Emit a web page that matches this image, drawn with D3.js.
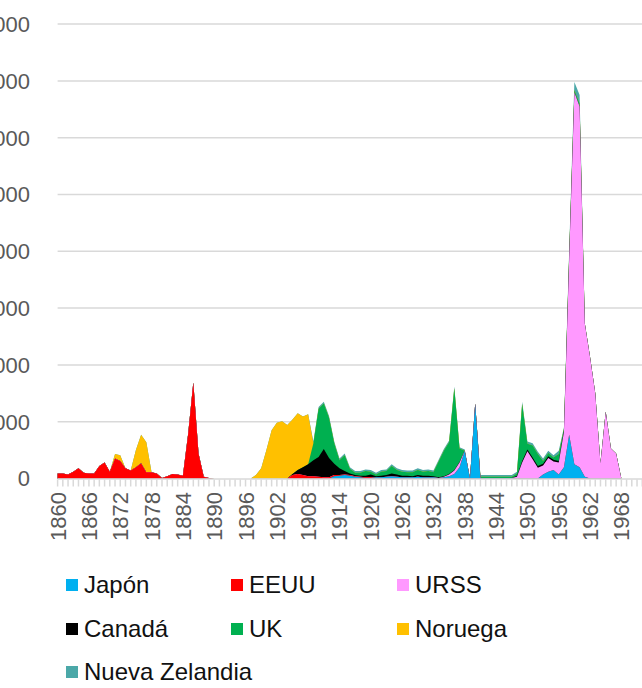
<!DOCTYPE html>
<html>
<head>
<meta charset="utf-8">
<script src="https://cdn.jsdelivr.net/npm/d3@7"></script>
<style>
  html, body { margin: 0; padding: 0; background: #ffffff; }
  svg { display: block; }
  text { font-family: "Liberation Sans", Arial, Helvetica, sans-serif; }
</style>
</head>
<body>
<div id="chart"></div>
<script>
// ---- Data (one value per year, 1860 ... 1975) ----
const years = d3.range(1860, 1976);

const japon = [
  0,0,0,0,0,0,0,0,0,0,
  0,0,0,0,0,0,0,0,0,0,
  0,0,0,0,0,0,0,0,0,0,
  0,0,0,0,0,0,0,0,0,0,
  0,0,0,0,0,0,0,0,0,0,
  0,0,0,80,100,120,100,60,40,20,
  20,40,40,60,80,60,40,40,40,60,
  40,40,40,20,40,80,160,400,980,0,
  2640,20,20,20,20,20,20,20,0,0,
  0,0,0,140,240,300,140,400,1540,500,
  400,60,0,0,0,0,0,0,0,0,
  0,0,0,0,0,0
];
const eeuu = [
  180,180,140,240,360,200,180,180,440,560,
  240,700,620,360,280,400,540,220,220,180,
  20,80,160,140,100,1560,3380,880,60,20,
  0,0,0,0,0,0,0,0,0,0,
  0,0,0,0,0,120,160,120,80,80,
  60,40,40,40,20,20,20,20,20,20,
  20,0,0,0,0,0,0,0,0,0,
  0,0,0,0,0,0,0,0,0,0,
  0,0,0,0,0,0,0,0,0,0,
  0,0,0,0,0,0,0,0,0,0,
  0,0,0,0,0,0,0,0,0,0,
  0,0,0,0,0,0
];
const urss = [
  0,0,0,0,0,0,0,0,0,0,
  0,0,0,0,0,0,0,0,0,0,
  0,0,0,0,0,0,0,0,0,0,
  0,0,0,0,0,0,0,0,0,0,
  0,0,0,0,0,0,0,0,0,0,
  0,0,0,0,0,0,0,0,0,0,
  0,0,0,0,0,0,0,0,0,0,
  0,0,0,0,20,60,120,160,0,0,
  0,0,0,0,0,0,0,0,60,560,
  960,680,380,320,480,300,420,1240,6200,13100,
  12700,5400,4280,3000,540,2360,1060,880,0,0,
  0,0,0,0,0,0
];
const canada = [
  0,0,0,0,0,0,0,0,0,0,
  0,0,0,0,0,0,0,0,0,0,
  0,0,0,0,0,0,0,0,0,0,
  0,0,0,0,0,0,0,0,0,0,
  0,0,0,0,0,40,140,280,420,560,
  700,1000,680,400,240,120,60,40,40,60,
  100,40,60,60,100,80,60,60,40,60,
  60,60,40,20,20,20,20,20,0,0,
  0,0,0,0,0,0,0,0,40,60,
  60,60,60,60,60,60,60,40,40,0,
  0,0,0,0,0,0,0,0,0,0,
  0,0,0,0,0,0
];
const uk = [
  0,0,0,0,0,0,0,0,0,0,
  0,0,0,0,0,0,0,0,0,0,
  0,0,0,0,0,0,0,0,0,0,
  0,0,0,0,0,0,0,0,0,0,
  0,0,0,0,0,0,0,0,0,600,
  1700,1600,1420,720,280,560,160,80,100,160,
  100,60,140,140,260,160,140,120,140,180,
  140,160,140,560,900,1120,2880,480,0,0,
  0,40,40,40,40,40,40,40,80,2000,
  200,420,420,100,120,80,240,60,80,80,
  100,0,0,0,0,0,0,0,0,0,
  0,0,0,0,0,0
];
const noruega = [
  0,0,0,0,0,0,0,0,0,0,
  0,160,200,0,0,600,1000,1060,0,0,
  0,0,0,0,0,0,0,0,0,0,
  0,0,0,0,0,0,0,0,120,360,
  1000,1700,1960,2020,1880,1920,2000,1780,1760,0,
  0,0,0,0,0,0,0,0,0,0,
  0,0,0,0,0,0,0,0,0,0,
  0,0,0,0,0,0,0,0,0,0,
  0,0,0,0,0,0,0,0,0,0,
  0,0,0,0,0,0,0,0,0,0,
  0,0,0,0,0,0,0,0,0,0,
  0,0,0,0,0,0
];
const nuevaZelandia = [
  0,0,0,0,0,0,0,0,0,0,
  0,0,0,0,0,0,0,0,0,0,
  0,0,0,0,0,0,0,0,0,0,
  0,0,0,0,0,0,0,0,0,0,
  0,0,0,0,0,0,0,0,0,60,
  60,60,60,60,60,60,60,60,60,60,
  60,60,60,60,60,60,60,60,60,60,
  60,60,60,60,60,60,60,40,40,0,
  0,60,60,60,60,60,60,60,60,80,
  80,80,80,80,80,80,120,60,140,280,
  300,0,0,0,0,0,0,0,0,0,
  0,0,0,0,0,0
];

const seriesNames = ["Japón", "EEUU", "URSS", "Canadá", "UK", "Noruega", "Nueva Zelandia"];
const seriesValues = [japon, eeuu, urss, canada, uk, noruega, nuevaZelandia];
const seriesColors = ["#00B0F0", "#FF0000", "#FF99FF", "#000000", "#00B050", "#FFC000", "#4BA8A8"];

const yTicks = [0, 2000, 4000, 6000, 8000, 10000, 12000, 14000, 16000];
const xLabelYears = d3.range(1860, 1976, 6);

// ---- Chart ----
const W = 642, H = 688;
const svg = d3.select("#chart").append("svg")
  .attr("width", W).attr("height", H)
  .attr("viewBox", `0 0 ${W} ${H}`);

svg.append("rect").attr("width", W).attr("height", H).attr("fill", "#ffffff");

const x = d3.scaleLinear().domain([1860, 1975]).range([57.6, 57.6 + 5.22 * 115]);
const y = d3.scaleLinear().domain([0, 16000]).range([478.5, 24.1]);

// gridlines
svg.append("g").selectAll("line")
  .data(yTicks.filter(d => d > 0))
  .join("line")
  .attr("x1", x(1860)).attr("x2", W + 20)
  .attr("y1", d => y(d)).attr("y2", d => y(d))
  .attr("stroke", "#d9d9d9").attr("stroke-width", 1.5);

// y-axis labels
svg.append("g").selectAll("text")
  .data(yTicks)
  .join("text")
  .attr("x", 30).attr("y", d => y(d))
  .attr("dy", "0.36em")
  .attr("text-anchor", "end")
  .attr("font-size", 22)
  .attr("fill", "#595959")
  .text(d => d);

// stacked areas (drawn as cumulative areas, top layer first, to avoid seams)
const table = years.map((yr, i) => {
  const row = { year: yr };
  seriesNames.forEach((name, s) => { row[name] = seriesValues[s][i]; });
  return row;
});
const stack = d3.stack().keys(seriesNames);
const layers = stack(table);
const area = d3.area()
  .x(d => x(d.data.year))
  .y0(y(0))
  .y1(d => y(d[1]));

svg.append("g").selectAll("path")
  .data(layers.slice().reverse())
  .join("path")
  .attr("d", area)
  .attr("fill", d => seriesColors[d.index]);

// x axis line + ticks
const axisG = svg.append("g");
axisG.append("line")
  .attr("x1", x(1860)).attr("x2", W + 20)
  .attr("y1", y(0) + 0.5).attr("y2", y(0) + 0.5)
  .attr("stroke", "#d9d9d9").attr("stroke-width", 1.5);
axisG.selectAll("line.tick")
  .data(years)
  .join("line")
  .attr("class", "tick")
  .attr("x1", d => x(d)).attr("x2", d => x(d))
  .attr("y1", y(0) + 1).attr("y2", y(0) + 8)
  .attr("stroke", "#d9d9d9").attr("stroke-width", 1.5);

// x labels
axisG.selectAll("text")
  .data(xLabelYears)
  .join("text")
  .attr("transform", d => `translate(${x(d) + 8},${492}) rotate(-90)`)
  .attr("text-anchor", "end")
  .attr("font-size", 22)
  .attr("fill", "#595959")
  .text(d => d);

// legend
const legendPos = [
  [66, 584], [231, 584], [397, 584],
  [66, 628], [231, 628], [397, 628],
  [66, 671]
];
const leg = svg.append("g").selectAll("g")
  .data(seriesNames)
  .join("g")
  .attr("transform", (d, i) => `translate(${legendPos[i][0]},${legendPos[i][1]})`);
leg.append("rect")
  .attr("x", 0).attr("y", -5).attr("width", 12).attr("height", 12)
  .attr("fill", (d, i) => seriesColors[i]);
leg.append("text")
  .attr("x", 18).attr("y", 0).attr("dy", "0.36em")
  .attr("font-size", 24)
  .attr("fill", "#111111")
  .text(d => d);
</script>
</body>
</html>
